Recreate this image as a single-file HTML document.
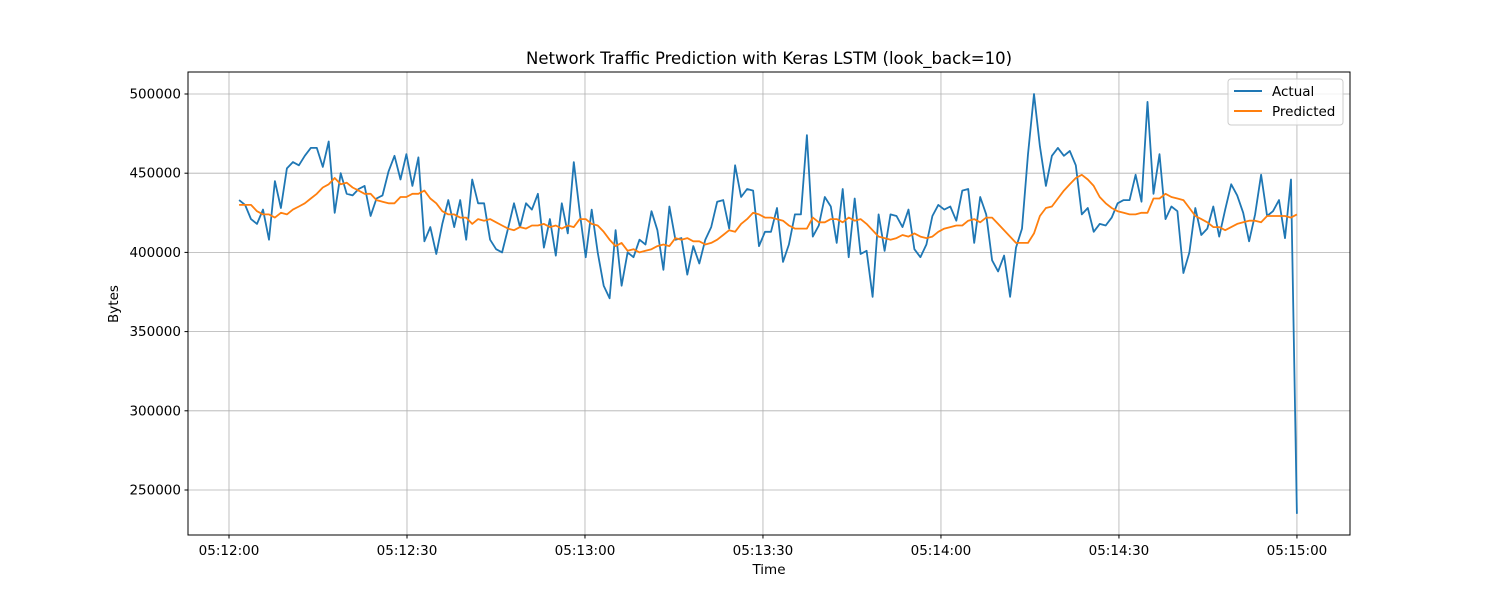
<!DOCTYPE html>
<html><head><meta charset="utf-8"><style>
body{margin:0;background:#fff}
svg text{font-family:"DejaVu Sans","Liberation Sans",sans-serif;fill:#000}
</style></head><body>
<svg id="chart" width="1500" height="600" viewBox="0 0 1500 600" xmlns="http://www.w3.org/2000/svg">
<rect x="0" y="0" width="1500" height="600" fill="#fff"/>
<g id="grid"></g>
<g id="series"></g>
<rect x="188" y="72" width="1162" height="463" fill="none" stroke="#000" stroke-width="1"/>
<g id="axes"></g>
<text x="769" y="64" text-anchor="middle" font-size="16.5">Network Traffic Prediction with Keras LSTM (look_back=10)</text>
<text x="769" y="574" text-anchor="middle" font-size="13.5">Time</text>
<text x="118" y="304" text-anchor="middle" font-size="13.5" transform="rotate(-90 118 304)">Bytes</text>
<g>
<rect x="1228" y="79" width="115" height="46" rx="3" fill="#fff" fill-opacity="0.8" stroke="#ccc"/>
<g><line x1="1234" y1="91" x2="1262" y2="91" stroke="#1f77b4" stroke-width="2"/><text x="1272" y="96" font-size="13.5">Actual</text></g>
<g><line x1="1234" y1="111" x2="1262" y2="111" stroke="#ff7f0e" stroke-width="2"/><text x="1272" y="116" font-size="13.5">Predicted</text></g>
</g>
</svg>
<script>
const actual=[433,430,421,418,427,408,445,428,453,457,455,461,466,466,454,470,425,450,437,436,440,442,423,434,436,451,461,446,462,442,460,407,416,399,418,433,416,433,408,446,431,431,408,402,400,415,431,416,431,427,437,403,421,398,431,412,457,425,397,427,400,379,371,414,379,400,397,408,405,426,414,389,429,408,409,386,404,393,408,416,432,433,415,455,435,440,439,404,413,413,428,394,405,424,424,474,410,417,435,429,406,440,397,434,399,401,372,424,401,424,423,416,427,402,397,405,423,430,427,429,420,439,440,406,435,424,395,388,398,372,403,415,462,500,467,442,461,466,461,464,455,424,428,413,418,417,422,431,433,433,449,432,495,437,462,421,429,426,387,400,428,411,415,429,410,427,443,436,425,407,424,449,423,426,433,409,446,235];
const predicted=[430,430,430,426,424,424,422,425,424,427,429,431,434,437,441,443,447,443,444,441,439,437,437,433,432,431,431,435,435,437,437,439,434,431,426,424,424,422,422,418,421,420,421,419,417,415,414,416,415,417,417,418,416,417,415,417,416,421,421,418,417,413,408,404,406,401,402,400,401,402,404,405,404,409,408,409,407,407,405,406,408,411,414,413,418,421,425,424,422,422,421,420,417,415,415,415,422,419,419,421,421,419,422,420,421,418,414,410,409,408,409,411,410,412,410,409,410,413,415,416,417,417,420,421,419,422,422,418,414,410,406,406,406,412,423,428,429,434,439,443,447,449,446,442,435,431,428,426,425,424,424,425,425,434,434,437,435,434,433,428,423,421,419,416,416,414,416,418,419,420,420,419,423,423,423,423,422,424];
const yTicks=[250000,300000,350000,400000,450000,500000];
const xTickSec=[0,30,60,90,120,150,180];
const xTickLabels=["05:12:00","05:12:30","05:13:00","05:13:30","05:14:00","05:14:30","05:15:00"];
const startSec=1.7, endSec=180;
const L=188,R=1350,T=72,B=535;
const xs=s=>229+s*5.933;
const ys=v=>94+(500000-v)*79.2/50000;
const NS="http://www.w3.org/2000/svg";
const grid=document.getElementById('grid'),axes=document.getElementById('axes'),ser=document.getElementById('series');
function mk(tag,attrs,parent){const e=document.createElementNS(NS,tag);for(const k in attrs)e.setAttribute(k,attrs[k]);parent.appendChild(e);return e;}
yTicks.forEach(v=>{const y=ys(v);
const g=mk('line',{x1:L,x2:R,y1:y,y2:y,stroke:'#b0b0b0','stroke-width':0.8},grid);


mk('line',{x1:L-3.5,x2:L,y1:y,y2:y,stroke:'#000'},axes);
const t=mk('text',{x:L-7,y:y+4.5,'text-anchor':'end','font-size':13.5},axes);t.textContent=v;

});
xTickSec.forEach((s,i)=>{const x=xs(s);
const g=mk('line',{x1:x,x2:x,y1:T,y2:B,stroke:'#b0b0b0','stroke-width':0.8},grid);


mk('line',{x1:x,x2:x,y1:B,y2:B+3.5,stroke:'#000'},axes);
const t=mk('text',{x:x,y:B+20,'text-anchor':'middle','font-size':13.5},axes);t.textContent=xTickLabels[i];

});
function line(arr,color,name){const n=arr.length;
const pts=arr.map((v,i)=>xs(startSec+i*(endSec-startSec)/(n-1)).toFixed(1)+','+ys(v*1000).toFixed(1)).join(' ');
const p=mk('polyline',{points:pts,fill:'none',stroke:color,'stroke-width':1.8,'stroke-linejoin':'round'},ser);

}
line(actual,'#1f77b4','actual-line');
line(predicted,'#ff7f0e','predicted-line');
</script>
</body></html>
